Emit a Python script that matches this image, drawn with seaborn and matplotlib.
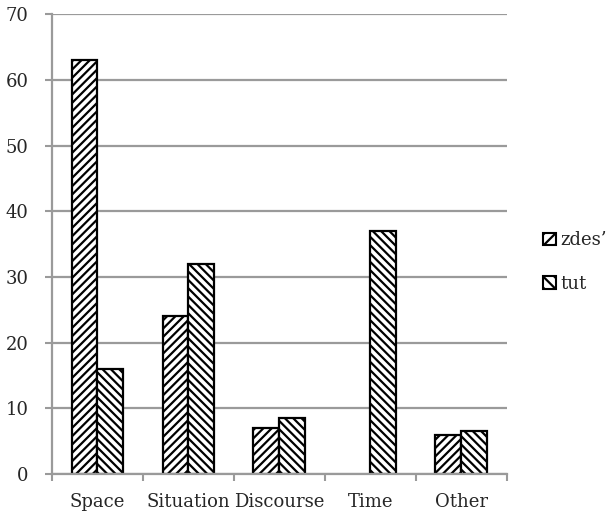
import numpy as np
import pandas as pd
import matplotlib
matplotlib.use("Agg")
import matplotlib.pyplot as plt
from matplotlib.patches import Patch
import seaborn as sns

categories = ["Space", "Situation", "Discourse", "Time", "Other"]
series_names = ["zdes\u2019", "tut"]
zdes_values = [63, 24, 7, 0, 6]
tut_values = [16, 32, 8.5, 37, 6.5]
y_ticks = [0, 10, 20, 30, 40, 50, 60, 70]

df = pd.DataFrame({
    "category": categories * 2,
    "series": [series_names[0]] * len(categories) + [series_names[1]] * len(categories),
    "value": zdes_values + tut_values,
})

sns.set_theme(style="white")
plt.rcParams["font.family"] = ["DejaVu Serif", "Liberation Serif"]
plt.rcParams["hatch.linewidth"] = 1.6
plt.rcParams["hatch.color"] = "black"

fig = plt.figure(figsize=(6.12, 5.16), dpi=100)
ax = fig.add_axes([0.085, 0.0814, 0.743, 0.8906])

sns.barplot(data=df, x="category", y="value", hue="series", order=categories,
            hue_order=series_names, palette=["white", "white"], width=0.57,
            gap=0, edgecolor="black", linewidth=1.6, legend=False, ax=ax,
            zorder=3)

hatches = ["////", "\\\\\\\\"]
for container, hatch in zip(ax.containers, hatches):
    for bar in container:
        bar.set_hatch(hatch)
        bar.set_zorder(3)
        if bar.get_height() == 0:
            bar.set_visible(False)

grid_color = "#9a9a9a"
font_size = 13
ax.set_ylim(0, 70)
ax.set_xlim(-0.5, len(categories) - 0.5)
ax.set_yticks(y_ticks)
ax.set_yticklabels([str(t) for t in y_ticks])
ax.yaxis.grid(True, color=grid_color, linewidth=1.6, zorder=0)
ax.set_axisbelow(True)

ax.set_xticks(np.arange(len(categories)))
ax.set_xticklabels(categories)
ax.set_xticks(np.arange(-0.5, len(categories)), minor=True)
ax.tick_params(axis="x", which="major", length=0, pad=14, labelsize=font_size)
ax.tick_params(axis="x", which="minor", length=5, width=1.5, color=grid_color,
               direction="out", bottom=True)
ax.tick_params(axis="y", which="major", length=5, width=1.5, color=grid_color,
               direction="out", left=True, pad=12, labelsize=font_size)

for side in ["top", "right"]:
    ax.spines[side].set_visible(False)
for side in ["left", "bottom"]:
    ax.spines[side].set_color(grid_color)
    ax.spines[side].set_linewidth(1.6)
    ax.spines[side].set_zorder(4)

ax.set_xlabel("")
ax.set_ylabel("")

handles = [Patch(facecolor="white", edgecolor="black", hatch=h, linewidth=1.5)
           for h in ["///", "\\\\\\"]]
fig.legend(handles, series_names, loc="center left",
           bbox_to_anchor=(0.888, 0.492), frameon=False, fontsize=font_size,
           handlelength=0.7, handleheight=0.7, handletextpad=0.25,
           labelspacing=1.4, borderaxespad=0, borderpad=0)

fig.savefig("out.png", dpi=100)
